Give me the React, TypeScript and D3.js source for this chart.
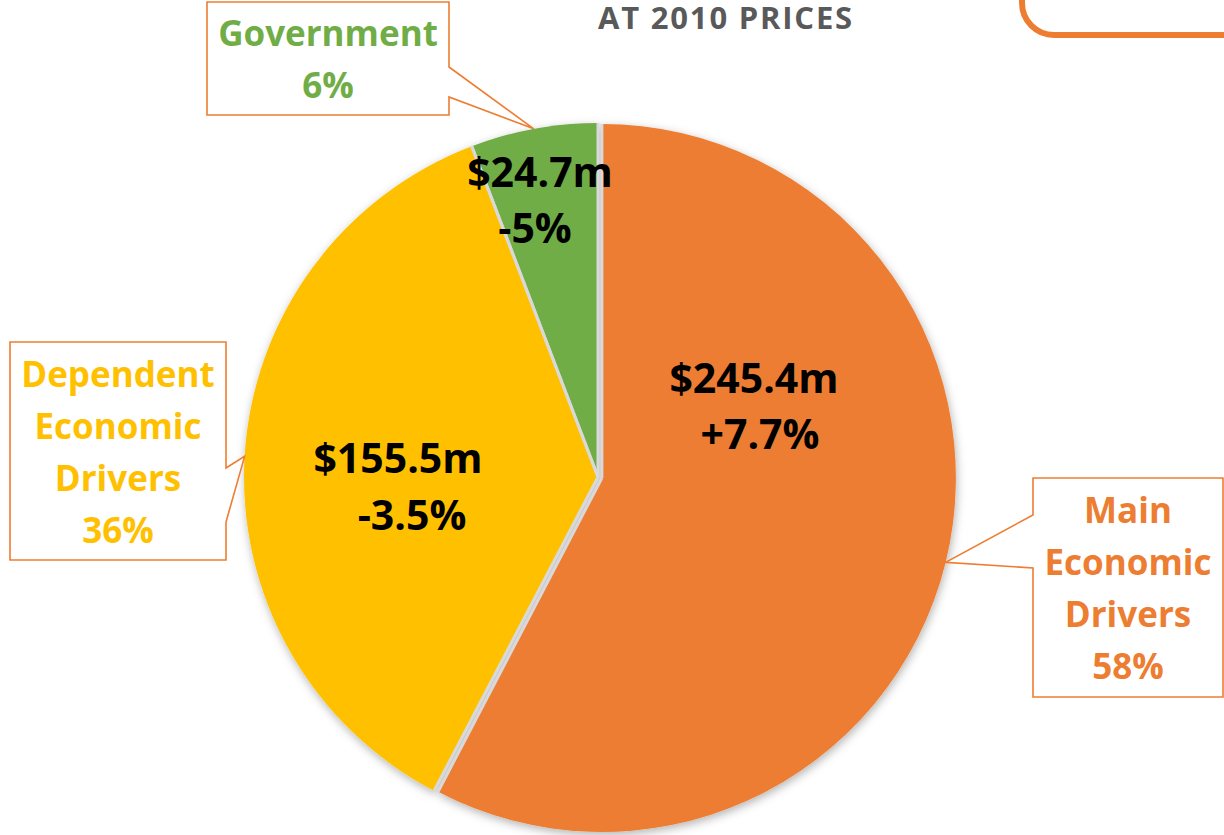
import React from "react";
import * as d3 from "d3";

// ---- Data ----
const categories = ["Main Economic Drivers", "Dependent Economic Drivers", "Government"];
const categoryLines = [["Main", "Economic", "Drivers"], ["Dependent", "Economic", "Drivers"], ["Government"]];
const values = [245.4, 155.5, 24.7];
const valueLabels = ["$245.4m", "$155.5m", "$24.7m"];
const changeLabels = ["+7.7%", "-3.5%", "-5%"];
const shareLabels = ["58%", "36%", "6%"];
const titleText = "AT 2010 PRICES";

// ---- Styles / layout ----
const W = 1224;
const H = 835;
const colors = ["#ED7D31", "#FFC000", "#70AD47"];
const cx = 598;
const cy = 477;
const R = 354;
const explode = [4, 0, 0];
const FONT = "'Open Sans', 'DejaVu Sans', sans-serif";

// value label line positions (center x, baseline y) for each slice
const valueLabelPos = [
  [[754, 393], [760, 449]],
  [[398, 473], [412, 530]],
  [[540, 187], [535, 243]],
];
// callout boxes [x0, y0, x1, y1] and which side the pointer leaves from
const calloutBoxes = [
  { box: [1033, 478, 1223, 697], side: "left", gap: [515, 568] },
  { box: [10, 342, 226, 560], side: "right", gap: [468, 522] },
  { box: [207, 2, 449, 115], side: "right", gap: [67, 97] },
];

export default function App() {
  const pie = d3.pie<number>().sort(null).value((d) => d);
  const arcs = pie(values);
  const arcGen = d3.arc<d3.PieArcDatum<number>>().innerRadius(0).outerRadius(R);

  const bisector = (a: d3.PieArcDatum<number>) => (a.startAngle + a.endAngle) / 2;
  const offset = (a: d3.PieArcDatum<number>, i: number) => {
    const b = bisector(a);
    return [Math.sin(b) * explode[i], -Math.cos(b) * explode[i]];
  };

  return (
    <svg
      width={W}
      height={H}
      style={{ position: "absolute", left: 0, top: 0, background: "#fff" }}
    >
      <defs>
        <filter id="pieShadow" x="-20%" y="-20%" width="140%" height="140%">
          <feDropShadow dx="1" dy="3" stdDeviation="5" floodColor="#000" floodOpacity="0.3" />
        </filter>
      </defs>
      <rect width={W} height={H} fill="#fff" />

      {/* top-right rounded frame */}
      <rect x={1022} y={-60} width={320} height={95} rx={32} ry={32} fill="none" stroke="#ED7D31" strokeWidth={6} />

      {/* title */}
      <text
        x={726}
        y={29}
        textAnchor="middle"
        fontFamily={FONT}
        fontWeight={700}
        fontSize={31}
        letterSpacing={1.8}
        fill="#595959"
      >
        {titleText}
      </text>

      {/* pie */}
      <g filter="url(#pieShadow)">
        {arcs.map((a, i) => {
          const [ox, oy] = offset(a, i);
          return (
            <path
              key={categories[i]}
              d={arcGen(a) || ""}
              transform={`translate(${cx + ox},${cy + oy})`}
              fill={colors[i]}
            />
          );
        })}
      </g>
      {/* slice separators */}
      {arcs.map((a, i) => {
        const [ox, oy] = offset(a, i);
        return [a.startAngle, a.endAngle].map((ang, k) => (
          <line
            key={`s${i}-${k}`}
            x1={cx + ox}
            y1={cy + oy}
            x2={cx + ox + Math.sin(ang) * R}
            y2={cy + oy - Math.cos(ang) * R}
            stroke="#D9D9D9"
            strokeWidth={3}
            strokeLinecap="butt"
          />
        ));
      })}

      {/* value labels */}
      {arcs.map((a, i) => (
        <g key={"v" + i} fontFamily={FONT} fontWeight={700} fontSize={41} fill="#000" textAnchor="middle">
          <text x={valueLabelPos[i][0][0]} y={valueLabelPos[i][0][1]}>{valueLabels[i]}</text>
          <text x={valueLabelPos[i][1][0]} y={valueLabelPos[i][1][1]}>{changeLabels[i]}</text>
        </g>
      ))}

      {/* callouts */}
      {arcs.map((a, i) => {
        const b = bisector(a);
        const tipX = cx + Math.sin(b) * (R + explode[i]);
        const tipY = cy - Math.cos(b) * (R + explode[i]);
        const { box, side, gap } = calloutBoxes[i];
        const [x0, y0, x1, y1] = box;
        let d: string;
        if (side === "right") {
          d = `M${x0},${y0} H${x1} V${gap[0]} L${tipX},${tipY} L${x1},${gap[1]} V${y1} H${x0} Z`;
        } else {
          d = `M${x0},${y0} H${x1} V${y1} H${x0} V${gap[1]} L${tipX},${tipY} L${x0},${gap[0]} Z`;
        }
        const lines = [...categoryLines[i], shareLabels[i]];
        const midY = (y0 + y1) / 2 + 13.5;
        const spacing = 52;
        const firstY = midY - ((lines.length - 1) * spacing) / 2;
        return (
          <g key={"c" + i}>
            <path d={d} fill="#fff" stroke="#ED7D31" strokeWidth={1.6} />
            {lines.map((t, j) => (
              <text
                key={j}
                x={(x0 + x1) / 2}
                y={firstY + j * spacing}
                textAnchor="middle"
                fontFamily={FONT}
                fontWeight={700}
                fontSize={35}
                fill={colors[i]}
              >
                {t}
              </text>
            ))}
          </g>
        );
      })}
    </svg>
  );
}
